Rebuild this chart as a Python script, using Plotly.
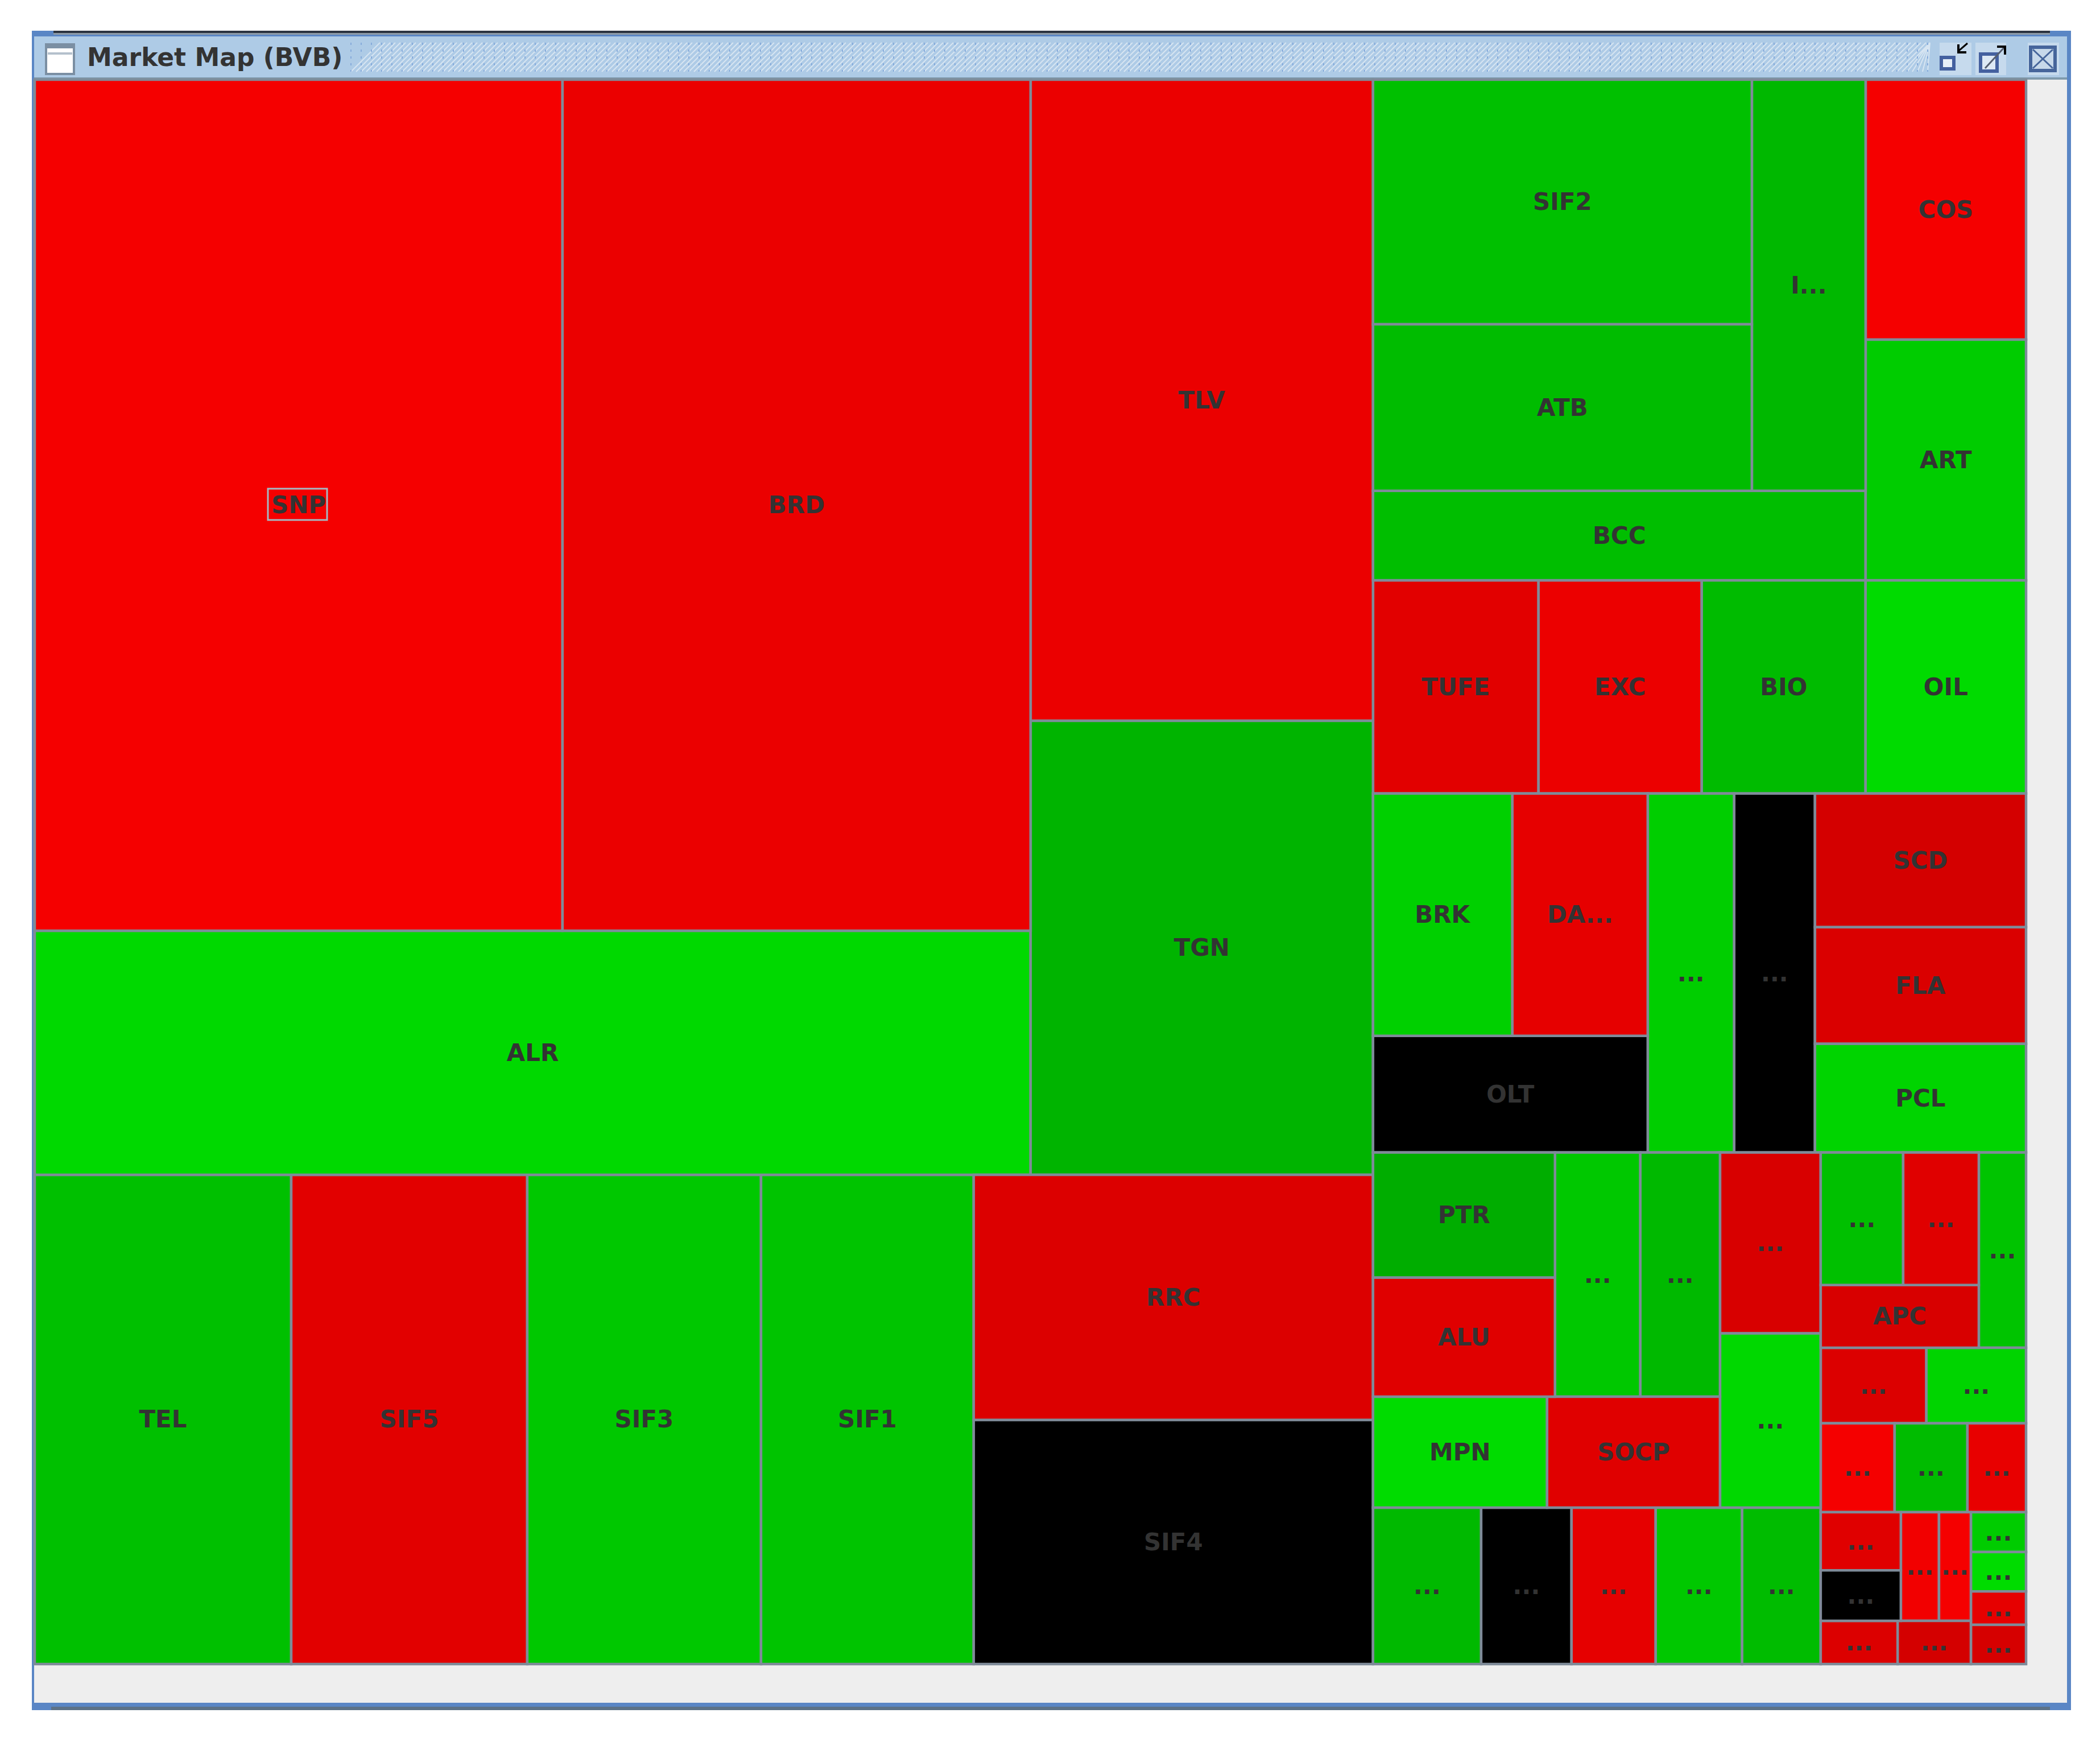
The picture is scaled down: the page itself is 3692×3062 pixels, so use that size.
import plotly.graph_objects as go

W, H = 3692, 3062

# market caps of every ticker (thousands of px2)
leaf_ids = ['SNP', 'BRD', 'ALR', 'TLV', 'TGN', 'TEL', 'SIF5', 'SIF3', 'SIF1', 'RRC', 'SIF4',
            'SIF2', 'ATB', 'I', 'BCC', 'COS', 'ART', 'TUFE', 'EXC', 'BIO', 'OIL',
            'BRK', 'DA', 'OLT', 'n1', 'n2', 'SCD', 'FLA', 'PCL',
            'PTR', 'ALU', 'n3', 'n4', 'MPN', 'SOCP', 'n5', 'n6',
            'n7', 'n8', 'n9', 'n10', 'n11',
            'n12', 'n13', 'APC', 'n14', 'n15', 'n16', 'n17', 'n18', 'n19',
            'n20', 'n21', 'n22', 'n23', 'n24', 'n25', 'n26', 'n27', 'n28', 'n29']
leaf_labels = ['SNP', 'BRD', 'ALR', 'TLV', 'TGN', 'TEL', 'SIF5', 'SIF3', 'SIF1', 'RRC', 'SIF4',
               'SIF2', 'ATB', 'I...', 'BCC', 'COS', 'ART', 'TUFE', 'EXC', 'BIO', 'OIL',
               'BRK', 'DA...', 'OLT', '...', '...', 'SCD', 'FLA', 'PCL',
               'PTR', 'ALU', '...', '...', 'MPN', 'SOCP', '...', '...',
               '...', '...', '...', '...', '...',
               '...', '...', 'APC', '...', '...', '...', '...', '...', '...',
               '...', '...', '...', '...', '...', '...', '...', '...', '...', '...']
leaf_values = [1388.3, 1231.2, 751.2, 678.5, 480.4, 387.9, 356.9, 353.5, 321.6, 302.6, 301.2,
               286.4, 195.1, 144.6, 136.0, 128.9, 119.3, 109.1, 107.6, 108.0, 105.8,
               104.4, 101.4, 99.0, 95.9, 89.6, 87.2, 76.1, 70.9,
               70.4, 66.9, 64.4, 60.1, 59.7, 59.3, 56.3, 54.2,
               52.3, 43.7, 40.7, 41.8, 38.0,
               33.8, 31.0, 30.6, 28.5, 24.7, 23.3, 20.3, 20.0, 16.1,
               14.4, 12.5, 12.8, 10.7, 10.3, 9.8, 6.8, 6.7, 5.7, 6.7]
leaf_colors = ['#f50000', '#eb0000', '#00d900', '#eb0000', '#00b400', '#00c000', '#e20000', '#00c800', '#00c400', '#dc0000', '#000000',
               '#00c000', '#00bc00', '#00b800', '#00be00', '#f50000', '#00cc00', '#e20000', '#ec0000', '#00bb00', '#00db00',
               '#00d000', '#e60000', '#000000', '#00ce00', '#000000', '#d40000', '#da0000', '#00d400',
               '#00ad00', '#e00000', '#00c800', '#00b900', '#00dc00', '#e00000', '#d80000', '#00d800',
               '#00b900', '#000000', '#e60000', '#00c800', '#00bc00',
               '#00c000', '#e00000', '#d80000', '#00c400', '#dc0000', '#00d400', '#f50000', '#00bc00', '#e80000',
               '#e00000', '#000000', '#f20000', '#f50000', '#dc0000', '#d40000', '#00cc00', '#00dc00', '#e60000', '#d60000']

# tree of the map in drawing order, groups alternate between columns and rows
node_ids = ['root', 'L', 'LT', 'LT1', 'SB', 'SNP', 'BRD', 'ALR', 'LT2', 'TLV', 'TGN',
            'LB', 'TEL', 'SIF5', 'SIF3', 'SIF1', 'RS', 'RRC', 'SIF4',
            'R', 'RA', 'RA1', 'RA11', 'RA111', 'SIF2', 'ATB', 'I', 'BCC', 'RA2', 'COS', 'ART',
            'RB', 'TUFE', 'EXC', 'BIO', 'OIL',
            'RC', 'RC1', 'RC11', 'BRK', 'DA', 'OLT', 'n1', 'n2', 'RC4', 'SCD', 'FLA', 'PCL',
            'RD', 'RD1', 'RD11', 'RD111', 'RD1111', 'PA', 'PTR', 'ALU', 'n3', 'n4',
            'RD1112', 'MPN', 'SOCP', 'RD112', 'n5', 'n6',
            'RD12', 'n7', 'n8', 'n9', 'n10', 'n11',
            'RD2', 'RE', 'RE1', 'RE11', 'n12', 'n13', 'APC', 'n14',
            'RF', 'n15', 'n16', 'RG', 'n17', 'n18', 'n19',
            'RH', 'RH1', 'RH11', 'RH111', 'n20', 'n21', 'n22', 'n23',
            'RH12', 'n24', 'n25', 'RH2', 'n26', 'n27', 'n28', 'n29']
node_parents = ['', 'root', 'L', 'LT', 'LT1', 'SB', 'SB', 'LT1', 'LT', 'LT2', 'LT2',
                'L', 'LB', 'LB', 'LB', 'LB', 'LB', 'RS', 'RS',
                'root', 'R', 'RA', 'RA1', 'RA11', 'RA111', 'RA111', 'RA11', 'RA1', 'RA', 'RA2', 'RA2',
                'R', 'RB', 'RB', 'RB', 'RB',
                'R', 'RC', 'RC1', 'RC11', 'RC11', 'RC1', 'RC', 'RC', 'RC', 'RC4', 'RC4', 'RC4',
                'R', 'RD', 'RD1', 'RD11', 'RD111', 'RD1111', 'PA', 'PA', 'RD1111', 'RD1111',
                'RD111', 'RD1112', 'RD1112', 'RD11', 'RD112', 'RD112',
                'RD1', 'RD12', 'RD12', 'RD12', 'RD12', 'RD12',
                'RD', 'RD2', 'RE', 'RE1', 'RE11', 'RE11', 'RE1', 'RE',
                'RD2', 'RF', 'RF', 'RD2', 'RG', 'RG', 'RG',
                'RD2', 'RH', 'RH1', 'RH11', 'RH111', 'RH111', 'RH11', 'RH11',
                'RH1', 'RH12', 'RH12', 'RH', 'RH2', 'RH2', 'RH2', 'RH2']

label_of = dict(zip(leaf_ids, leaf_labels))
value_of = dict(zip(leaf_ids, leaf_values))
color_of = dict(zip(leaf_ids, leaf_colors))
is_leaf = [n in value_of for n in node_ids]

fig = go.Figure(go.Treemap(
    ids=node_ids,
    parents=node_parents,
    labels=node_ids,
    values=[value_of.get(n, 0) for n in node_ids],
    branchvalues='remainder',
    sort=False,
    text=[label_of.get(n, '') for n in node_ids],
    textinfo='text',
    textposition='middle center',
    textfont=dict(family='DejaVu Sans', size=42, color='#333333', weight='bold'),
    hoverinfo='skip',
    marker=dict(
        colors=[color_of.get(n, 'rgba(0,0,0,0)') for n in node_ids],
        line=dict(color='#7f8b99', width=[4.5 if leaf else 0 for leaf in is_leaf]),
        pad=dict(t=0, l=0, r=0, b=0),
        depthfade=False,
    ),
    tiling=dict(packing='slice-dice', pad=0),
    pathbar=dict(visible=False),
    domain=dict(x=[61 / W, 3562 / W], y=[1 - 2925 / H, 1 - 140 / H]),
))


def px(x):
    return x / W


def py(y):
    return 1 - y / H


def box(x0, y0, x1, y1, fill, line=None, width=0, layer='below'):
    return dict(type='rect', xref='paper', yref='paper', layer=layer,
                x0=px(x0), y0=py(y0), x1=px(x1), y1=py(y1), fillcolor=fill,
                line=dict(color=line or fill, width=width))


def stroke(points, color, width):
    path = 'M' + ' L'.join(f'{px(x):.5f},{py(y):.5f}' for x, y in points)
    return dict(type='path', xref='paper', yref='paper', layer='below', path=path,
                line=dict(color=color, width=width))


shapes = [
    # window frame
    box(56, 54, 3641, 3006, '#5a86c5'),
    box(60, 64, 3634, 2993, '#eeeeee'),
    box(94, 54, 3604, 58, '#2b3340'),
    box(94, 58, 3604, 61, '#8e9ca8'),
    box(90, 3000, 3604, 3006, '#5d7287'),
    box(60, 64, 3634, 136, '#aecbe6'),
    box(60, 136, 3634, 140, '#7f9aad'),
    # window icon
    box(81, 78, 130, 130, '#ffffff', '#7b8fa3', 4),
    box(81, 78, 130, 85, '#7b8fa3'),
    box(84, 92, 127, 96, '#b4c0cc'),
    # minimise button
    box(3410, 75, 3466, 132, '#c6daed'),
    box(3413, 101, 3435, 121, '#e6eef8', '#44609f', 6),
    stroke([(3459, 76), (3443, 90)], '#000000', 3),
    stroke([(3443, 78), (3443, 92), (3457, 92)], '#000000', 4),
    # maximise button
    box(3473, 75, 3527, 132, '#c6daed'),
    box(3482, 95, 3511, 125, '#dde8f4', '#44609f', 6),
    stroke([(3490, 120), (3523, 84)], '#555e70', 3),
    stroke([(3511, 82), (3525, 82), (3525, 96)], '#000000', 4),
    # close button
    box(3565, 75, 3620, 132, '#c6daed'),
    box(3570, 83, 3613, 124, '#c7d8ea', '#46659b', 6),
    stroke([(3574, 87), (3609, 120)], '#46659b', 3),
    stroke([(3609, 87), (3574, 120)], '#46659b', 3),
    # selected cell
    box(471, 859, 575, 914, 'rgba(0,0,0,0)', '#a6b8c2', 3, layer='above'),
]

# dithered part of the title bar
hatch, dots = [], []
for x in range(617, 3393, 9):
    hatch.append(f'M{px(x):.5f},{py(126):.5f} L{px(min(x + 51, 3393)):.5f},{py(75):.5f}')
for x in range(617, 3393, 18):
    dots.append(f'M{px(x):.5f},{py(75):.5f} L{px(x):.5f},{py(126):.5f}')
shapes.append(dict(type='path', xref='paper', yref='paper', layer='below', path=' '.join(hatch),
                   line=dict(color='#d7e5f2', width=2)))
shapes.append(dict(type='path', xref='paper', yref='paper', layer='below', path=' '.join(dots),
                   line=dict(color='#86abdb', width=2, dash='4px,8px')))

fig.update_layout(
    width=W, height=H,
    margin=dict(l=0, r=0, t=0, b=0),
    paper_bgcolor='#ffffff',
    shapes=shapes,
    annotations=[dict(text='<b>Market Map (BVB)</b>', xref='paper', yref='paper',
                      x=px(151), y=py(101), xanchor='left', yanchor='middle', showarrow=False,
                      font=dict(family='DejaVu Sans', size=44, color='#333333'))],
)

fig.write_html('out.html', config=dict(displayModeBar=False),
               post_script="document.body.style.margin='0';")
